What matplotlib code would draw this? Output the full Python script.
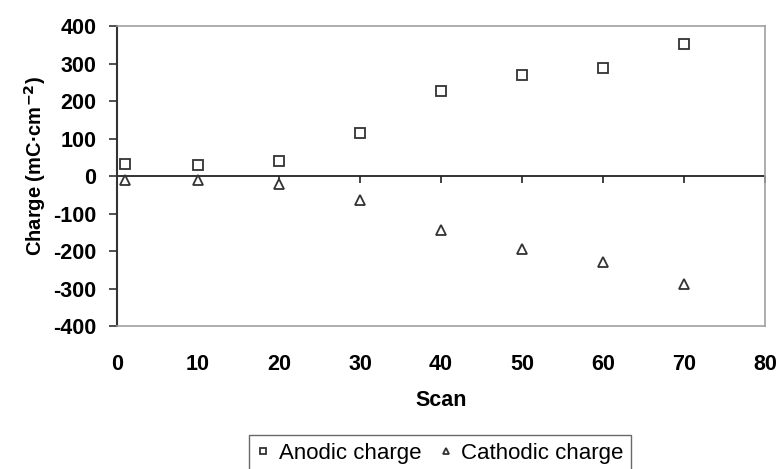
import matplotlib
matplotlib.use("Agg")
import matplotlib.pyplot as plt

scans = [1, 10, 20, 30, 40, 50, 60, 70]
anodic = [32, 29, 40, 115, 227, 269, 288, 352]
cathodic = [-11, -10, -20, -64, -143, -195, -229, -288]

x_ticks = [0, 10, 20, 30, 40, 50, 60, 70, 80]
y_ticks = [-400, -300, -200, -100, 0, 100, 200, 300, 400]

plt.rcParams['font.family'] = ['Liberation Sans', 'DejaVu Sans']
plt.rcParams['axes.unicode_minus'] = False

fig = plt.figure(figsize=(7.8, 4.69), dpi=100)
ax = fig.add_axes([117 / 780, 1 - 326 / 469, (765 - 117) / 780, 300 / 469])

ax.plot(scans, anodic, linestyle='none', marker='s', markersize=7,
        markerfacecolor='white', markeredgecolor='#333333', markeredgewidth=1.3,
        label='Anodic charge')
ax.plot(scans, cathodic, linestyle='none', marker='^', markersize=7.5,
        markerfacecolor='white', markeredgecolor='#333333', markeredgewidth=1.3,
        label='Cathodic charge')

ax.set_xlim(0, 80)
ax.set_ylim(-400, 400)
ax.set_yticks(y_ticks)
ax.set_xticks(x_ticks)

# zero line carrying the x ticks
ax.axhline(0, color='#222222', linewidth=1.3, zorder=1)
sec = ax.secondary_xaxis(0.5)
sec.set_xticks(x_ticks[1:])
sec.tick_params(axis='x', direction='out', length=5, width=1.2,
                color='#222222', labelbottom=False, labeltop=False,
                bottom=True, top=False)
sec.spines['bottom'].set_visible(False)
sec.spines['top'].set_visible(False)

for side in ['top', 'right', 'bottom']:
    ax.spines[side].set_color('#a0a0a0')
    ax.spines[side].set_linewidth(1.2)
ax.spines['left'].set_color('#333333')
ax.spines['left'].set_linewidth(1.5)

ax.tick_params(axis='x', length=0, pad=20, labelsize=15.5)
ax.tick_params(axis='y', direction='out', length=6, width=1.2,
               color='#333333', labelsize=15.5, pad=9)
for lab in ax.get_xticklabels() + ax.get_yticklabels():
    lab.set_fontweight('bold')

ax.set_xlabel('Scan', fontsize=15.5, fontweight='bold')
ax.xaxis.label.set_va('center')
ax.xaxis.set_label_coords(0.5, (326 - 401) / 300)
ax.set_ylabel('Charge (mC·cm$\\mathbf{^{-2}}$)', fontsize=14.5,
              fontweight='bold')
ax.yaxis.label.set_va('center')
ax.yaxis.set_label_coords((35 - 117) / 648, (326 - 166) / 300)

fig.legend(loc='upper center', bbox_to_anchor=(440 / 780, 1 - 435 / 469),
           ncol=2, fontsize=16, frameon=True, fancybox=False,
           edgecolor='#444444', handlelength=0.6, handletextpad=0.4,
           columnspacing=0.8, markerscale=0.55, borderpad=0.35,
           borderaxespad=0)

fig.savefig('out.png', dpi=100)
